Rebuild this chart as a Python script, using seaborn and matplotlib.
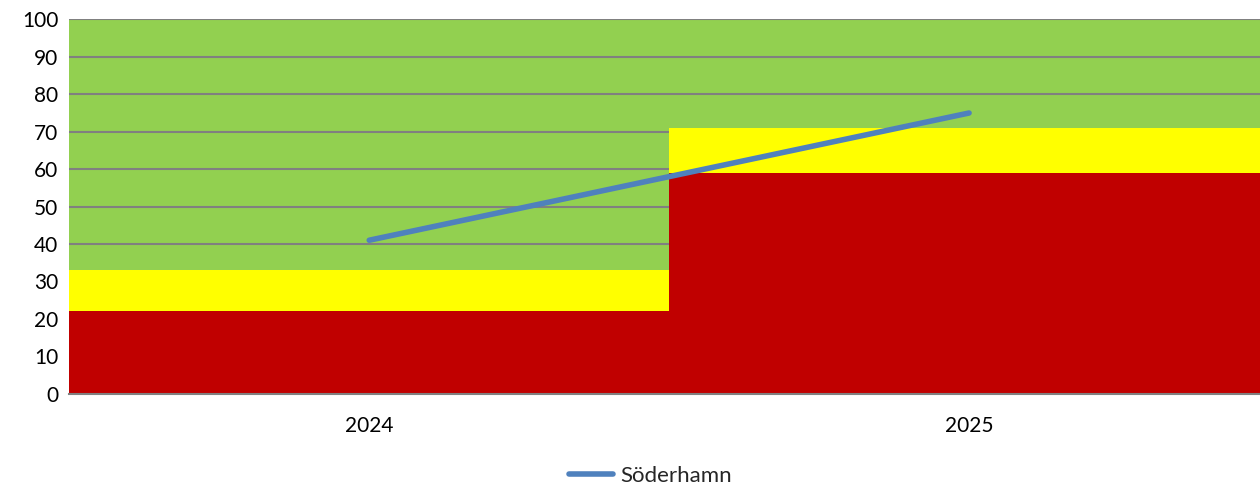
import matplotlib
matplotlib.use('Agg')
import matplotlib.pyplot as plt
import seaborn as sns
import numpy as np
import pandas as pd

# values
years = ['2024', '2025']
red_vals = [22, 59]
yellow_vals = [11, 12]
green_vals = [67, 29]
line_vals = [41, 75]
line_name = 'Söderhamn'

sns.set_style('white')
plt.rcParams['font.family'] = ['Lato', 'DejaVu Sans']

fig, ax = plt.subplots(figsize=(12.6, 4.86), dpi=100)

# cumulative tops, drawn back to front
red_top = np.array(red_vals)
yellow_top = red_top + np.array(yellow_vals)
green_top = yellow_top + np.array(green_vals)
df = pd.DataFrame({'year': years, 'red': red_top, 'yellow': yellow_top, 'green': green_top})

# green sits under the grid, red and yellow cover it
sns.barplot(data=df, x='year', y='green', color='#92D050', width=1.0, saturation=1,
            linewidth=0, zorder=0.5, ax=ax)
sns.barplot(data=df, x='year', y='yellow', color='#FFFF00', width=1.0, saturation=1,
            linewidth=0, zorder=2, ax=ax)
sns.barplot(data=df, x='year', y='red', color='#C00000', width=1.0, saturation=1,
            linewidth=0, zorder=2.1, ax=ax)

sns.lineplot(x=[0, 1], y=line_vals, color='#4F81BD', linewidth=4, ax=ax,
             label=line_name, zorder=3, solid_capstyle='round')

ax.set_ylim(0, 100)
ax.set_xlim(-0.5, 1.485)
ax.set_yticks(range(0, 101, 10))
ax.set_xticks([0, 1])
ax.set_xticklabels(years)
ax.set_xlabel('')
ax.set_ylabel('')
ax.set_axisbelow('line')
ax.yaxis.grid(True, color='#808080', linewidth=1.5)
for s in ['top', 'right', 'left']:
    ax.spines[s].set_visible(False)
ax.spines['bottom'].set_color('#808080')
ax.spines['bottom'].set_linewidth(1.5)
ax.spines['bottom'].set_zorder(2.5)
ax.tick_params(axis='both', length=0, labelsize=15, colors='#000000')
ax.tick_params(axis='y', pad=8)
ax.tick_params(axis='x', pad=16)

ax.legend(loc='upper center', bbox_to_anchor=(0.488, -0.14), frameon=False,
          fontsize=16, handlelength=2.0, handletextpad=0.3)

plt.subplots_adjust(left=0.055, right=1.0, top=0.96, bottom=0.19)
plt.savefig('out.png', dpi=100)
